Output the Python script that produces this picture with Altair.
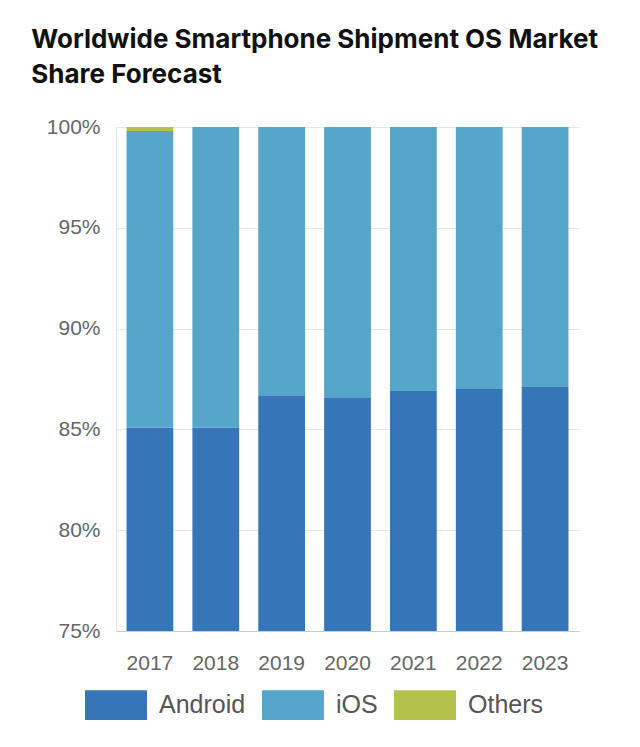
import altair as alt
import pandas as pd

years = ["2017", "2018", "2019", "2020", "2021", "2022", "2023"]
android = [85.1, 85.1, 86.7, 86.6, 86.9, 87.0, 87.1]
ios = [14.7, 14.9, 13.3, 13.4, 13.1, 13.0, 12.9]
others = [0.2, 0.0, 0.0, 0.0, 0.0, 0.0, 0.0]
series = ["Android", "iOS", "Others"]
colors = ["#3775b9", "#55a6c8", "#b3c24b"]

rows = []
for i, y in enumerate(years):
    for k, (name, vals) in enumerate(zip(series, [android, ios, others])):
        rows.append({"year": y, "os": name, "share": vals[i], "o": k})
df = pd.DataFrame(rows)

rect_path = "M-1,-0.48H1V0.48H-1Z"

chart = (
    alt.Chart(df)
    .mark_bar(clip=True)
    .encode(
        x=alt.X("year:N", sort=years, title=None,
                scale=alt.Scale(paddingInner=0.29, paddingOuter=0.16),
                axis=alt.Axis(labelAngle=0, ticks=False, grid=False,
                              domainColor="#cccccc", labelPadding=21,
                              labelFontSize=21, labelColor="#666666",
                              labelFont="Liberation Sans")),
        y=alt.Y("share:Q", stack="zero", title=None,
                scale=alt.Scale(domain=[75, 100], nice=False),
                axis=alt.Axis(values=[75, 80, 85, 90, 95, 100],
                              labelExpr="datum.value + '%'",
                              ticks=False, domainColor="#e3e3e3",
                              gridColor="#e6e6e6", labelPadding=16,
                              labelFontSize=21, labelColor="#666666",
                              labelFont="Liberation Sans")),
        color=alt.Color("os:N", scale=alt.Scale(domain=series, range=colors),
                        legend=alt.Legend(title=None, orient="none",
                                          direction="horizontal",
                                          legendX=-31, legendY=547,
                                          symbolType=rect_path,
                                          symbolSize=3844,
                                          symbolStrokeWidth=0,
                                          symbolOpacity=1,
                                          labelFontSize=25,
                                          labelColor="#555555",
                                          labelFont="Liberation Sans",
                                          labelOffset=12,
                                          columnPadding=16)),
        order=alt.Order("o:Q", sort="ascending"),
    )
    .properties(
        width=463,
        height=504,
        padding={"left": 23, "top": 19, "right": 5, "bottom": 5},
        title=alt.TitleParams(
            text=["Worldwide Smartphone Shipment OS Market", "Share Forecast"],
            anchor="start", frame="bounds", dx=-15,
            font="Inter", fontSize=26, fontWeight=700, color="#111111",
            lineHeight=35, offset=28,
        ),
        background="white",
    )
    .configure_view(stroke=None)
)

chart.save("out.html", embed_options={"renderer": "svg", "actions": False})
